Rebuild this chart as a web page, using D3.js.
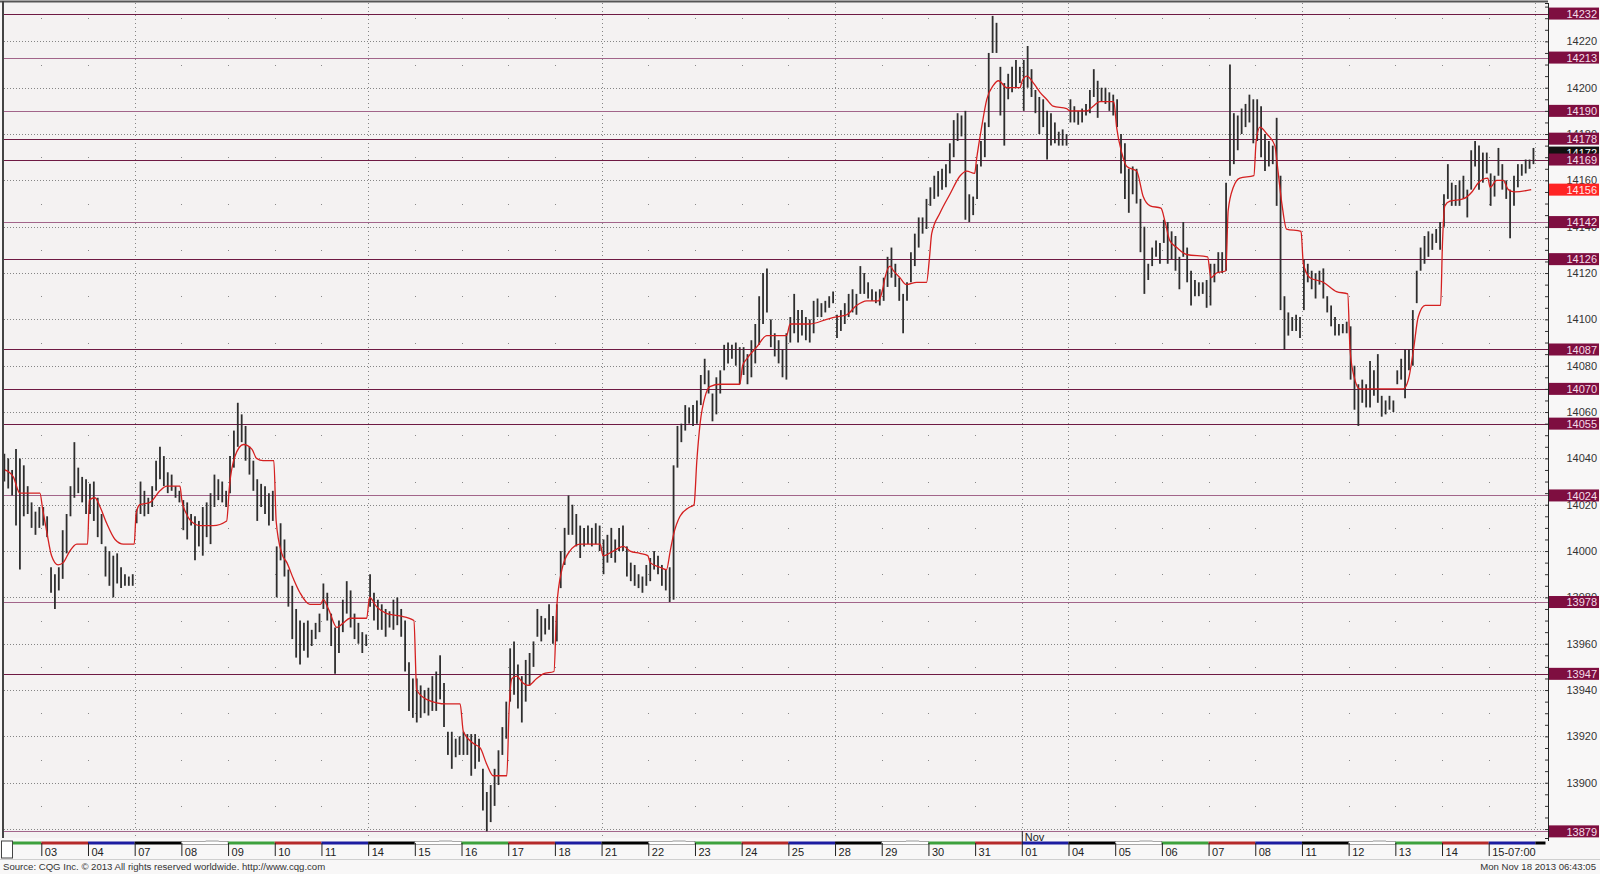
<!DOCTYPE html>
<html><head><meta charset="utf-8">
<script src="https://cdn.jsdelivr.net/npm/d3@7"></script>
<style>
html,body{margin:0;padding:0;background:#f8f7f7;}
svg{display:block;}
text{font-family:"Liberation Sans",Arial,sans-serif;}
</style></head><body>
<svg id="chart" width="1600" height="874"></svg>
<script>
// ---------------- DATA ----------------
const dayLabels = ["02","03","04","07","08","09","10","11","14","15","16","17","18","21","22","23","24","25","28","29","30","31","01","04","05","06","07","08","11","12","13","14","15-07:00","18"];
const weekdays  = ["Wed","Thu","Fri","Mon","Tue","Wed","Thu","Fri","Mon","Tue","Wed","Thu","Fri","Mon","Tue","Wed","Thu","Fri","Mon","Tue","Wed","Thu","Fri","Mon","Tue","Wed","Thu","Fri","Mon","Tue","Wed","Thu","Fri","Mon"];
const monthStartLabel = "Nov";
const monthStartDay = 22; // index in dayLabels of Nov 01

// hourly-ish bars per session: [high, low]
const oct02 = [[14042,14030],[14040,14027],[14035,14024],[14044,14011],[14040,13992],[14037,14015],[14028,14016],[14021,14010],[14017,14007],[14019,14010]];
const oct03 = [[14019,14011],[14015,14006],[13993,13982],[13990,13975],[13993,13983],[14009,13988],[14016,13999],[14028,14015],[14047,14023],[14036,14025],[14032,14021],[14031,14016]];
const oct04 = [[14029,14016],[14030,14013],[14023,14006],[14016,14003],[14002,13989],[14000,13985],[13998,13980],[13999,13986],[13993,13984],[13990,13985],[13989,13985],[13990,13985]];
const oct07 = [[14018,14012],[14030,14016],[14026,14015],[14023,14016],[14028,14019],[14039,14026],[14045,14031],[14041,14028],[14034,14025],[14033,14026],[14028,14023],[14026,14021]];
const oct08 = [[14022,14009],[14021,14005],[14016,14011],[14015,13996],[14013,14002],[14019,13998],[14021,14006],[14025,14003],[14033,14019],[14031,14022],[14030,14021],[14026,14019]];
const oct09 = [[14041,14025],[14052,14036],[14064,14045],[14059,14047],[14054,14039],[14045,14033],[14039,14026],[14031,14013],[14029,14019],[14028,14016],[14025,14011],[14026,14013]];
const oct10 = [[14002,13980],[14012,13996],[14005,13989],[13992,13976],[13985,13962],[13975,13954],[13970,13951],[13969,13957],[13970,13954],[13966,13959],[13969,13962],[13973,13965]];
const oct11 = [[13986,13975],[13982,13970],[13973,13959],[13967,13947],[13970,13956],[13979,13965],[13987,13973],[13983,13967],[13973,13962],[13969,13960],[13965,13956],[13964,13959]];
const oct14 = [[13990,13976],[13982,13970],[13979,13966],[13977,13966],[13975,13963],[13974,13967],[13979,13966],[13980,13968],[13975,13963],[13970,13948],[13952,13931],[13945,13928]];
const oct15 = [[13945,13926],[13942,13928],[13940,13930],[13941,13929],[13946,13931],[13948,13931],[13955,13936],[13943,13924],[13922,13912],[13922,13906],[13919,13911],[13920,13912]];
const oct16 = [[13922,13912],[13921,13912],[13921,13903],[13921,13906],[13919,13909],[13906,13888],[13896,13879],[13899,13883],[13906,13890],[13914,13899],[13924,13912],[13935,13919]];
const oct17 = [[13958,13935],[13961,13938],[13951,13932],[13946,13926],[13953,13935],[13956,13942],[13961,13950],[13975,13963],[13972,13961],[13971,13964],[13977,13966],[13972,13960]];
const oct18 = [[13977,13961],[14000,13984],[14010,13994],[14024,14007],[14020,14007],[14016,14002],[14011,13997],[14010,14002],[14011,14003],[14010,14002],[14012,14003],[14011,14000]];
const oct21 = [[14005,13990],[14007,13995],[14010,13997],[14005,13995],[14010,14000],[14011,14000],[14002,13989],[13995,13987],[13994,13985],[13990,13984],[13989,13982],[13994,13985]];
const oct22 = [[13997,13987],[14000,13992],[13998,13990],[13994,13985],[13992,13983],[13993,13978],[14037,13979],[14054,14036],[14055,14047],[14063,14052],[14062,14055],[14063,14054]];
const oct23 = [[14065,14055],[14076,14063],[14083,14072],[14078,14068],[14068,14056],[14075,14059],[14078,14068],[14089,14078],[14090,14081],[14089,14083],[14090,14080],[14088,14072]];
const oct24 = [[14088,14076],[14085,14072],[14091,14075],[14098,14081],[14110,14089],[14120,14098],[14122,14103],[14100,14088],[14094,14084],[14091,14081],[14087,14075],[14094,14074]];
const oct25 = [[14101,14090],[14111,14094],[14104,14090],[14104,14093],[14101,14091],[14100,14090],[14108,14094],[14109,14101],[14107,14101],[14108,14103],[14110,14105],[14112,14107]];
const oct28 = [[14102,14092],[14104,14095],[14107,14098],[14111,14101],[14113,14103],[14111,14102],[14123,14111],[14120,14111],[14116,14109],[14113,14108],[14112,14107],[14113,14106]];
const oct29 = [[14118,14108],[14127,14114],[14131,14118],[14124,14114],[14118,14108],[14111,14094],[14116,14108],[14129,14116],[14137,14123],[14144,14131],[14144,14137],[14152,14139]];
const oct30 = [[14157,14149],[14162,14152],[14164,14153],[14165,14156],[14167,14157],[14176,14163],[14186,14170],[14189,14177],[14188,14179],[14190,14143],[14154,14142],[14153,14145]];
const oct31 = [[14167,14152],[14177,14166],[14185,14170],[14215,14183],[14231,14215],[14228,14215],[14209,14188],[14202,14175],[14206,14195],[14209,14198],[14212,14200],[14209,14202]];
const nov01 = [[14212,14190],[14218,14200],[14208,14196],[14199,14189],[14196,14180],[14195,14183],[14190,14169],[14189,14175],[14185,14176],[14181,14175],[14182,14175],[14180,14175]];
const nov04 = [[14195,14185],[14192,14185],[14190,14184],[14191,14185],[14193,14188],[14199,14189],[14208,14196],[14203,14187],[14200,14194],[14200,14193],[14198,14190],[14197,14188]];
const nov05 = [[14195,14183],[14180,14163],[14176,14152],[14165,14146],[14166,14154],[14165,14150],[14152,14129],[14140,14111],[14124,14117],[14131,14123],[14134,14127],[14133,14124]];
const nov06 = [[14143,14133],[14142,14124],[14138,14126],[14136,14121],[14127,14113],[14142,14127],[14131,14116],[14121,14106],[14117,14110],[14116,14110],[14116,14111],[14117,14105]];
const nov07 = [[14124,14106],[14124,14116],[14129,14120],[14129,14120],[14159,14121],[14210,14162],[14189,14167],[14188,14173],[14191,14180],[14193,14183],[14197,14185],[14195,14176]];
const nov08 = [[14195,14177],[14192,14170],[14180,14164],[14177,14166],[14175,14167],[14187,14149],[14162,14104],[14110,14087],[14103,14093],[14101,14095],[14102,14095],[14101,14092]];
const nov11 = [[14126,14104],[14124,14116],[14121,14113],[14120,14109],[14121,14115],[14122,14109],[14110,14103],[14106,14097],[14101,14093],[14098,14093],[14098,14094],[14099,14094]];
const nov12 = [[14097,14074],[14080,14061],[14072,14054],[14074,14064],[14072,14062],[14082,14062],[14078,14067],[14085,14064],[14067,14058],[14065,14059],[14067,14061],[14065,14060]];
const nov13 = [[14078,14072],[14083,14074],[14087,14066],[14087,14078],[14104,14080],[14121,14107],[14131,14121],[14136,14124],[14138,14127],[14137,14130],[14139,14133],[14142,14130]];
const nov14 = [[14154,14140],[14167,14152],[14159,14149],[14158,14149],[14160,14149],[14162,14152],[14156,14144],[14173,14156],[14177,14166],[14175,14156],[14172,14159],[14172,14163]];
const nov15 = [[14163,14149],[14162,14153],[14174,14162],[14167,14156],[14160,14152],[14156,14135],[14162,14149],[14167,14157],[14167,14162],[14169,14163],[14169,14165],[14174,14167]];
const sessions = [oct02,oct03,oct04,oct07,oct08,oct09,oct10,oct11,oct14,oct15,oct16,oct17,oct18,oct21,oct22,oct23,oct24,oct25,oct28,oct29,oct30,oct31,nov01,nov04,nov05,nov06,nov07,nov08,nov11,nov12,nov13,nov14,nov15];
const slotsPerSession = 12;

// red average line: [session time (days from Oct 03 open), value]
const avgLine = [
[-0.78,14035],[-0.60,14032],[-0.46,14025],[-0.03,14025],[0.03,14018],[0.12,14008],[0.22,13998],[0.36,13994],[0.47,13995],[0.61,14000],[0.76,14003],[0.99,14003],
[1.03,14022],[1.15,14023],[1.26,14019],[1.40,14012],[1.58,14005],[1.76,14003],[1.99,14003],
[2.03,14016],[2.11,14020],[2.33,14021],[2.54,14026],[2.69,14028],[2.97,14028],
[3.01,14022],[3.11,14016],[3.26,14012],[3.40,14011],[3.68,14011],[3.97,14013],
[4.03,14028],[4.15,14041],[4.33,14046],[4.51,14044],[4.61,14040],[4.75,14039],[4.98,14039],
[5.03,14013],[5.15,13999],[5.26,13995],[5.40,13988],[5.54,13982],[5.75,13977],[5.98,13977],
[6.04,13979],[6.15,13975],[6.33,13967],[6.47,13969],[6.61,13971],[6.97,13971],
[7.03,13980],[7.18,13976],[7.40,13973],[7.68,13972],[7.98,13970],
[8.04,13940],[8.25,13936],[8.68,13934],[8.97,13934],
[9.04,13922],[9.25,13917],[9.40,13915],[9.54,13908],[9.68,13903],[9.97,13903],
[10.02,13932],[10.08,13945],[10.18,13946],[10.32,13943],[10.43,13942],[10.61,13945],[10.75,13947],[10.98,13948],
[11.04,13976],[11.15,13992],[11.32,14000],[11.54,14003],[11.97,14003],
[12.03,13998],[12.25,14000],[12.47,14002],[12.61,14000],[12.82,13999],[12.99,13998],
[13.04,13995],[13.25,13993],[13.39,13992],[13.47,14000],[13.54,14007],[13.68,14015],[13.89,14019],[13.98,14020],
[14.04,14039],[14.11,14055],[14.22,14067],[14.32,14071],[14.54,14072],[14.96,14072],
[15.02,14080],[15.11,14083],[15.32,14088],[15.54,14093],[15.78,14093],[15.96,14093],
[16.04,14098],[16.46,14098],[16.82,14100],[17.00,14101],
[17.25,14102],[17.46,14106],[17.68,14108],[17.93,14108],
[18.02,14113],[18.07,14118],[18.18,14123],[18.25,14121],[18.39,14118],[18.53,14115],[18.75,14116],[18.96,14116],
[19.02,14126],[19.07,14137],[19.25,14146],[19.46,14154],[19.68,14162],[19.82,14164],[19.99,14163],
[20.03,14169],[20.14,14183],[20.25,14195],[20.39,14201],[20.50,14203],[20.68,14200],[20.96,14200],
[21.01,14203],[21.11,14205],[21.25,14202],[21.39,14198],[21.53,14195],[21.67,14192],[21.96,14191],
[22.03,14190],[22.39,14190],[22.53,14192],[22.67,14194],[22.97,14194],
[23.03,14183],[23.14,14172],[23.25,14166],[23.46,14164],[23.60,14153],[23.75,14149],[23.98,14148],
[24.07,14142],[24.17,14134],[24.32,14131],[24.53,14128],[24.98,14127],
[25.05,14118],[25.17,14120],[25.37,14121],[25.42,14147],[25.53,14157],[25.67,14161],[25.97,14162],
[26.02,14177],[26.10,14183],[26.25,14180],[26.42,14175],[26.47,14167],[26.57,14150],[26.67,14139],[26.98,14138],
[27.03,14124],[27.17,14118],[27.46,14116],[27.74,14112],[27.98,14111],
[28.03,14087],[28.12,14075],[28.24,14070],[28.98,14070],
[29.17,14070],[29.28,14074],[29.39,14087],[29.49,14101],[29.64,14106],[29.97,14106],
[30.01,14133],[30.06,14149],[30.17,14151],[30.45,14152],[30.64,14155],[30.78,14159],[30.98,14161],
[31.03,14157],[31.17,14160],[31.31,14160],[31.42,14156],[31.56,14155],[31.91,14156]
];

// horizontal support / resistance levels
const levels     = [14232,14213,14190,14178,14169,14142,14126,14087,14070,14055,14024,13978,13947,13879];
const levelTone  = ["dark","light","light","dark","dark","light","dark","dark","dark","dark","light","light","dark","light"];
const lastPrice  = 14172;
const avgLast    = 14156;
const priceTicks = [13900,13920,13940,13960,13980,14000,14020,14040,14060,14080,14100,14120,14140,14160,14180,14200,14220];

const sourceText = "Source: CQG Inc. \u00A9 2013 All rights reserved worldwide. http://www.cqg.com";
const stampText  = "Mon Nov 18 2013 06:43:05";

// ---------------- LAYOUT ----------------
const plotL = 4, plotR = 1548, plotT = 3, plotB = 838;
const svg = d3.select("#chart");
const x = d3.scaleLinear().domain([0, 32]).range([41.3, 1535.4]);
const y = d3.scaleLinear().domain([13876.14, 14236.56]).range([plotB, plotT]);
const dayStart = k => k - 1; // session index -> day time

svg.append("rect").attr("x",0).attr("y",0).attr("width",1600).attr("height",874).attr("fill","#f8f7f7");
svg.append("rect").attr("x",plotL).attr("y",plotT).attr("width",plotR-plotL).attr("height",plotB-plotT).attr("fill","#f4f2f2");

const defs = svg.append("defs");
defs.append("clipPath").attr("id","plotclip").append("rect")
  .attr("x",plotL).attr("y",plotT).attr("width",plotR-plotL).attr("height",plotB-plotT+2);

const grid = svg.append("g");
// horizontal dotted grid (every 20)
grid.selectAll("line.hg").data(d3.range(13880, 14236, 20)).join("line")
  .attr("x1",plotL).attr("x2",plotR).attr("y1",d=>Math.round(y(d))+0.5).attr("y2",d=>Math.round(y(d))+0.5)
  .attr("stroke","#858585").attr("stroke-width",1).attr("stroke-dasharray","1,2");
// weekly / month vertical dotted lines
const boundaries = d3.range(0, dayLabels.length).map(k => ({k, t: dayStart(k)})).filter(b => b.t >= 0);
const majorB = boundaries.filter(b => weekdays[b.k] === "Mon" || b.k === monthStartDay);
const minorB = boundaries.filter(b => !(weekdays[b.k] === "Mon" || b.k === monthStartDay));
grid.selectAll("line.vg").data(majorB).join("line")
  .attr("x1",d=>Math.round(x(d.t))+0.5).attr("x2",d=>Math.round(x(d.t))+0.5)
  .attr("y1",plotT).attr("y2",plotB)
  .attr("stroke","#858585").attr("stroke-width",1).attr("stroke-dasharray","1,3");
// dots at other day boundaries
const dotVals = d3.range(13890, 14236, 20);
minorB.forEach(b => {
  grid.selectAll(null).data(dotVals).join("rect")
    .attr("x", Math.round(x(b.t))).attr("y", d => Math.round(y(d)))
    .attr("width",1).attr("height",1).attr("fill","#888");
});

// level lines
const toneColor = {dark:"#6e1a43", light:"#a2658a"};
svg.append("g").selectAll("line").data(levels).join("line")
  .attr("x1",plotL).attr("x2",plotR)
  .attr("y1",d=>Math.round(y(d))+0.5).attr("y2",d=>Math.round(y(d))+0.5)
  .attr("stroke",(d,i)=>toneColor[levelTone[i]]).attr("stroke-width",1.1);

// bars
const barData = [];
sessions.forEach((arr, k) => {
  const off = slotsPerSession - arr.length;
  arr.forEach((b, j) => barData.push({t: dayStart(k) + (off + j + 0.5) / slotsPerSession, hi: b[0], lo: b[1]}));
});
const gBars = svg.append("g").attr("clip-path","url(#plotclip)");
gBars.selectAll("line").data(barData).join("line")
  .attr("x1",d=>x(d.t)).attr("x2",d=>x(d.t))
  .attr("y1",d=>y(d.hi)).attr("y2",d=>y(d.lo))
  .attr("stroke","#2e2e2e").attr("stroke-width",1.8);

// average line
svg.append("path").datum(avgLine)
  .attr("clip-path","url(#plotclip)")
  .attr("d", d3.line().x(d=>x(d[0])).y(d=>y(d[1])).curve(d3.curveMonotoneX))
  .attr("fill","none").attr("stroke","#d42020").attr("stroke-width",1.3);

// frame
svg.append("line").attr("x1",0).attr("x2",plotR).attr("y1",1.5).attr("y2",1.5).attr("stroke","#555").attr("stroke-width",2);
svg.append("line").attr("x1",3).attr("x2",3).attr("y1",1).attr("y2",plotB).attr("stroke","#444").attr("stroke-width",2);

// right price axis
const axR = svg.append("g").attr("transform",`translate(${plotR},0)`);
axR.call(d3.axisLeft(y).tickValues(d3.range(13880, 14236, 5)).tickSize(3).tickFormat(""));
axR.select(".domain").attr("stroke","#222");
axR.selectAll(".tick line").attr("stroke","#333");
const axLab = svg.append("g").attr("transform",`translate(${plotR},0)`);
axLab.call(d3.axisRight(y).tickValues(priceTicks).tickSize(0).tickPadding(0).tickFormat(d3.format("d")));
axLab.select(".domain").remove();
axLab.selectAll("text").attr("x",49).attr("text-anchor","end")
  .attr("font-family","Liberation Sans, Arial, sans-serif").attr("font-size",11).attr("fill","#333");
svg.append("line").attr("x1",plotR+0.5).attr("x2",plotR+0.5).attr("y1",plotT).attr("y2",plotB+3).attr("stroke","#222");

// price label boxes
function priceBox(v, fill, txt) {
  const g = svg.append("g");
  const cy = y(v);
  g.append("rect").attr("x",plotR+1).attr("y",cy-6).attr("width",50).attr("height",12).attr("fill",fill);
  g.append("text").attr("x",1597).attr("y",cy+4.2).attr("text-anchor","end")
    .attr("font-size",11).attr("fill",txt).text(v);
}
priceBox(lastPrice, "#111", "#fff");
levels.forEach(v => priceBox(v, "#7e0e40", "#f5dde8"));
priceBox(avgLast, "#ff2424", "#ffe6e6");

// ---------------- DATE STRIP ----------------
const stripY = 843;
const dayColor = {Mon:"#000", Tue:"#fff", Wed:"#3da13d", Thu:"#b52a2a", Fri:"#1c1ca0"};
const segs = dayLabels.map((lab, k) => {
  const t0 = dayStart(k);
  let x0 = x(t0), x1 = x(t0 + 1);
  if (k === 0) x0 = 13;
  if (k === dayLabels.length - 1) x1 = 1545.5;
  return {k, x0, x1, wd: weekdays[k]};
});
const gs = svg.append("g");
gs.selectAll("rect.seg").data(segs).join("rect")
  .attr("x",d=>d.x0).attr("y",stripY-1.5).attr("width",d=>d.x1-d.x0).attr("height",3)
  .attr("fill",d=>dayColor[d.wd]).attr("stroke",d=>d.wd==="Tue"?"#555":"none").attr("stroke-width",0.5);
gs.selectAll("rect.thumb").data(segs.filter(d=>d.wd==="Tue")).join("rect")
  .attr("x",d=>d.x0+(d.x1-d.x0)*0.52).attr("y",stripY-3).attr("width",(d)=>(d.x1-d.x0)*0.28).attr("height",2)
  .attr("fill","#c9c9c9");

const axB = svg.append("g").attr("transform",`translate(0,${stripY})`);
axB.call(d3.axisBottom(x).tickValues(d3.range(0, 32)).tickSize(13).tickPadding(0)
  .tickFormat(t => dayLabels[t + 1]));
axB.select(".domain").remove();
axB.selectAll(".tick line").attr("stroke","#222");
axB.selectAll(".tick text").attr("text-anchor","start").attr("x",3).attr("y",5).attr("dy","0.71em")
  .attr("font-family","Liberation Sans, Arial, sans-serif").attr("font-size",11).attr("fill","#222");

// month marker
const xm = x(dayStart(monthStartDay));
svg.append("line").attr("x1",xm+0.5).attr("x2",xm+0.5).attr("y1",831).attr("y2",stripY).attr("stroke","#222");
svg.append("text").attr("x",xm+3).attr("y",841).attr("font-size",11).attr("fill","#222").text(monthStartLabel);

// little box at the strip start
svg.append("rect").attr("x",1.5).attr("y",841).attr("width",11).attr("height",17).attr("fill","#fff").attr("stroke","#444");

// separator + footer
svg.append("line").attr("x1",0).attr("x2",1600).attr("y1",859.5).attr("y2",859.5).attr("stroke","#cfcfcf");
svg.append("text").attr("x",3).attr("y",870).attr("font-size",9.6).attr("fill","#333").text(sourceText);
svg.append("text").attr("x",1596).attr("y",870).attr("text-anchor","end").attr("font-size",9.6).attr("fill","#333").text(stampText);
</script>
</body></html>
